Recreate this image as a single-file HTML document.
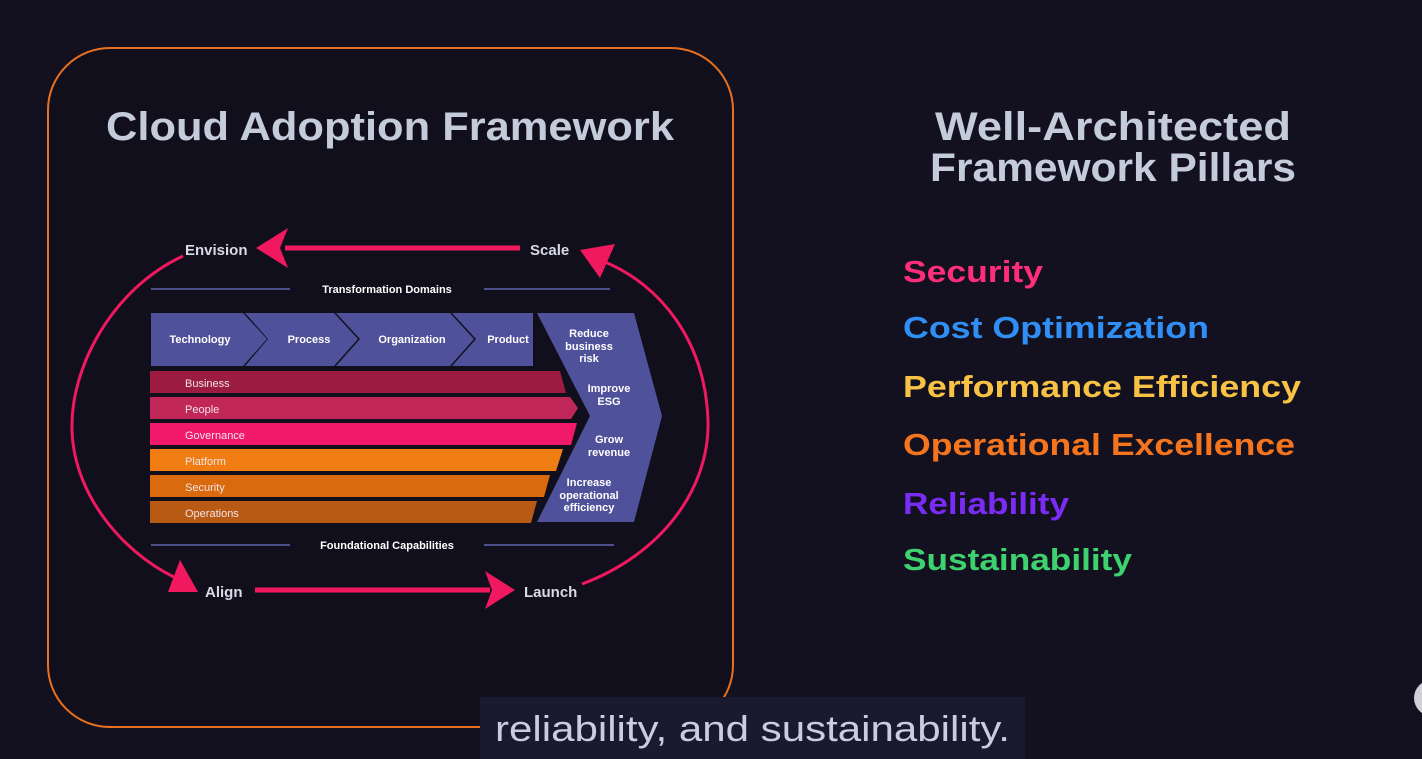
<!DOCTYPE html>
<html><head><style>
html,body{margin:0;padding:0;background:#13111f;}
svg{display:block;}
text{font-family:"Liberation Sans",sans-serif;font-weight:bold;}
</style></head><body>
<svg width="1422" height="759" viewBox="0 0 1422 759" xmlns="http://www.w3.org/2000/svg">
<rect width="1422" height="759" fill="#13111f"/>
<text x="50" y="-2" font-size="30" fill="#c4cbdb">Review Time:</text>
<rect x="48" y="48" width="685" height="679" rx="62" fill="#120f1d" stroke="#e8701f" stroke-width="2"/>
<text x="390" y="140" font-size="40" fill="#c4cbdb" text-anchor="middle" textLength="568" lengthAdjust="spacingAndGlyphs">Cloud Adoption Framework</text>

<g stroke="#4d4f8a" stroke-width="2">
<line x1="151" y1="289" x2="290" y2="289"/><line x1="484" y1="289" x2="610" y2="289"/>
<line x1="151" y1="545" x2="290" y2="545"/><line x1="484" y1="545" x2="614" y2="545"/>
</g>
<text x="387" y="293" font-size="11" fill="#fff" text-anchor="middle">Transformation Domains</text>
<text x="387" y="549" font-size="11" fill="#fff" text-anchor="middle">Foundational Capabilities</text>

<g fill="#4f519a">
<polygon points="151,313 243,313 267,339 243,366 151,366"/>
<polygon points="245,313 334,313 358,339 334,366 245,366 268,339"/>
<polygon points="336,313 450,313 474,339 450,366 336,366 360,339"/>
<polygon points="452,313 533,313 533,366 452,366 476,339"/>
<polygon points="537,313 634,313 662,416 634,522 537,522 590,416"/>
</g>
<g font-size="11" fill="#fff" text-anchor="middle">
<text x="200" y="343">Technology</text><text x="309" y="343">Process</text>
<text x="412" y="343">Organization</text><text x="508" y="343">Product</text>
<text x="589" y="337">Reduce</text><text x="589" y="350">business</text><text x="589" y="362">risk</text>
<text x="609" y="392">Improve</text><text x="609" y="405">ESG</text>
<text x="609" y="443">Grow</text><text x="609" y="456">revenue</text>
<text x="589" y="486">Increase</text><text x="589" y="499">operational</text><text x="589" y="511">efficiency</text>
</g>
<polygon points="150,371 560,371 566,393 150,393" fill="#9c1c40"/>
<polygon points="150,397 570,397 578,408 571,419 150,419" fill="#c02758"/>
<polygon points="150,423 577,423 571,445 150,445" fill="#f0196a"/>
<polygon points="150,449 563,449 556,471 150,471" fill="#f07d11"/>
<polygon points="150,475 550,475 544,497 150,497" fill="#d96a0d"/>
<polygon points="150,501 537,501 531,523 150,523" fill="#b85a14"/>
<g font-size="11" fill="#f3e3e8">
<text x="185" y="387" style="font-weight:normal">Business</text>
<text x="185" y="413" style="font-weight:normal">People</text>
<text x="185" y="439" style="font-weight:normal">Governance</text>
<text x="185" y="465" style="font-weight:normal">Platform</text>
<text x="185" y="491" style="font-weight:normal">Security</text>
<text x="185" y="517" style="font-weight:normal">Operations</text>
</g>

<g font-size="15" fill="#d8dae6">
<text x="185" y="255">Envision</text><text x="530" y="255">Scale</text>
<text x="205" y="597">Align</text><text x="524" y="597">Launch</text>
</g>
<g stroke="#f0195f" stroke-width="3" fill="none">
<line x1="520" y1="248" x2="285" y2="248" stroke-width="5"/>
<line x1="255" y1="590" x2="490" y2="590" stroke-width="5"/>
<path d="M183,256 C110,290 70,370 72,430 C74,500 130,560 185,582"/>
<path d="M582,584 C660,555 710,490 708,420 C705,340 660,285 605,262"/>
</g>
<g fill="#f0195f">
<polygon points="256,248 288,228 280,248 288,268"/>
<polygon points="515,590 485,571 492,590 485,609"/>
<polygon points="198,592 168,592 180,560"/>
<polygon points="580,250 615,244 600,278"/>
</g>

<g font-size="40" fill="#c4cbdb" text-anchor="middle">
<text x="1113" y="140" textLength="356" lengthAdjust="spacingAndGlyphs">Well-Architected</text>
<text x="1113" y="181" textLength="366" lengthAdjust="spacingAndGlyphs">Framework Pillars</text>
</g>
<g font-size="31">
<text x="903" y="282" fill="#ff2e79" textLength="140" lengthAdjust="spacingAndGlyphs">Security</text>
<text x="903" y="338" fill="#2f8ff5" textLength="306" lengthAdjust="spacingAndGlyphs">Cost Optimization</text>
<text x="903" y="397" fill="#f8c244" textLength="398" lengthAdjust="spacingAndGlyphs">Performance Efficiency</text>
<text x="903" y="455" fill="#f5751f" textLength="392" lengthAdjust="spacingAndGlyphs">Operational Excellence</text>
<text x="903" y="514" fill="#7a2cf5" textLength="166" lengthAdjust="spacingAndGlyphs">Reliability</text>
<text x="903" y="570" fill="#3ed26e" textLength="229" lengthAdjust="spacingAndGlyphs">Sustainability</text>
</g>

<rect x="480" y="697" width="545" height="62" fill="#1b1930"/>
<text x="495" y="741" font-size="36" fill="#c9cde0" style="font-weight:normal" textLength="515" lengthAdjust="spacingAndGlyphs">reliability, and sustainability.</text>
<circle cx="1432" cy="698" r="18" fill="#cfd0d8"/>
</svg>
</body></html>
